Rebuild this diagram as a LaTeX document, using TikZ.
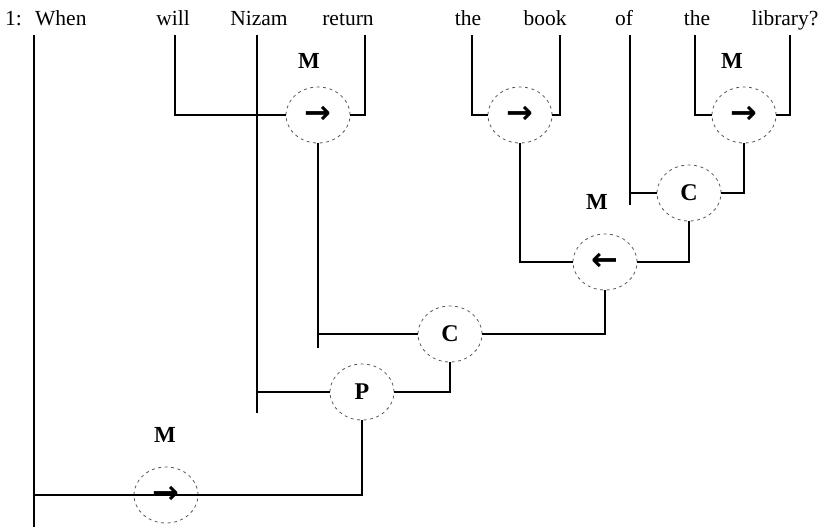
\documentclass[tikz,border=0pt]{standalone}
\usepackage{fontspec}
\setmainfont{Liberation Serif}
\newfontfamily\arrowfont{DejaVu Sans}
\usetikzlibrary{shapes.geometric}

\begin{document}
\begin{tikzpicture}[
  x=1pt, y=-1pt,
  word/.style={
    anchor=base,
    inner sep=0pt,
    font=\fontsize{21.5}{24}\selectfont
  },
  relnode/.style={
    ellipse,
    draw=black!65,
    line width=0.8pt,
    dash pattern=on 3pt off 3.5pt,
    minimum width=64pt,
    minimum height=56pt,
    inner sep=0pt,
    font=\fontsize{24}{26}\selectfont\bfseries
  },
  dirnode/.style={relnode, font=\fontsize{32}{32}\selectfont\arrowfont\bfseries},
  tag/.style={inner sep=0pt, font=\fontsize{23}{24}\selectfont\bfseries},
  link/.style={line width=2pt, draw=black}
]
\useasboundingbox (0,0) rectangle (832,528);

% the sentence
\node[word, anchor=base west] (num) at (5,25) {1:};
\node[word, anchor=base west] (when) at (35,25) {When};
\node[word] (will) at (173,25) {will};
\node[word] (nizam) at (259,25) {Nizam};
\node[word] (ret) at (348,25) {return};
\node[word] (theA) at (468,25) {the};
\node[word] (book) at (545,25) {book};
\node[word] (of) at (624,25) {of};
\node[word] (theB) at (697,25) {the};
\node[word] (library) at (785,25) {library?};

\coordinate (tWhen) at (34,35);
\coordinate (tWill) at (175,35);
\coordinate (tNizam) at (257,35);
\coordinate (tRet) at (365,35);
\coordinate (tTheA) at (472,35);
\coordinate (tBook) at (560,35);
\coordinate (tOf) at (630,35);
\coordinate (tTheB) at (695,35);
\coordinate (tLib) at (790,35);

% relation circles
\node[dirnode] (rA) at (318,115) {→};
\node[dirnode] (rB) at (520,115) {→};
\node[dirnode] (rC) at (744,115) {→};
\node[relnode] (cA) at (689,193) {C};
\node[dirnode] (lA) at (605,262) {←};
\node[relnode] (cB) at (450,334) {C};
\node[relnode] (pA) at (362,392) {P};
\node[dirnode] (rD) at (166,495) {→};

\node[tag] (mA) at (309,61) {M};
\node[tag] (mB) at (732,61) {M};
\node[tag] (mC) at (597,202) {M};
\node[tag] (mD) at (165,435) {M};

% brackets
\draw[link] (tWill) |- (rA);
\draw[link] (tRet) |- (rA);
\draw[link] (tTheA) |- (rB);
\draw[link] (tBook) |- (rB);
\draw[link] (tTheB) |- (rC);
\draw[link] (tLib) |- (rC);
\draw[link] (tOf) -- ++(0,170);
\draw[link] (tOf |- cA) -- (cA);
\draw[link] (rC) |- (cA);
\draw[link] (rB) |- (lA);
\draw[link] (cA) |- (lA);
\draw[link] (rA) |- (cB);
\draw[link] (rA |- cB) -- ++(0,14);
\draw[link] (lA) |- (cB);
\draw[link] (tNizam) -- ++(0,378);
\draw[link] (tNizam |- pA) -- (pA);
\draw[link] (cB) |- (pA);
\draw[link] (tWhen) -- ++(0,492);
\draw[link] (pA) |- (tWhen |- rD);

\end{tikzpicture}
\end{document}
